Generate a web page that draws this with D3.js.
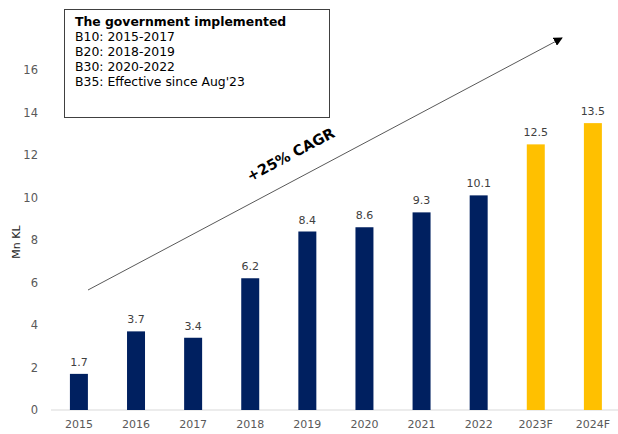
<!DOCTYPE html>
<html>
<head>
<meta charset="utf-8">
<script src="https://cdn.jsdelivr.net/npm/d3@7"></script>
<style>
  body { margin: 0; background: #fff; }
  text { font-family: "DejaVu Sans", Verdana, sans-serif; }
</style>
</head>
<body>
<div id="chart"></div>
<script>
// Data
var years = ["2015", "2016", "2017", "2018", "2019", "2020", "2021", "2022", "2023F", "2024F"];
var volumes = [1.7, 3.7, 3.4, 6.2, 8.4, 8.6, 9.3, 10.1, 12.5, 13.5];
var forecast = [false, false, false, false, false, false, false, false, true, true];
var yTicks = [0, 2, 4, 6, 8, 10, 12, 14, 16];
var noteLines = ["B10: 2015-2017", "B20: 2018-2019", "B30: 2020-2022", "B35: Effective since Aug'23"];

var W = 618, H = 434;
var svg = d3.select("#chart").append("svg")
    .attr("width", W)
    .attr("height", H);

// Skala
var x = d3.scaleBand()
    .domain(years)
    .range([50.5, 621.3])
    .paddingInner(0.685)
    .paddingOuter(0.34);

var y = d3.scaleLinear()
    .domain([0, 16])
    .range([410, 70]);

// Sumbu Y (hanya label)
var yAxis = svg.append("g")
    .attr("transform", "translate(46,0)")
    .call(d3.axisLeft(y).tickValues(yTicks).tickSize(0).tickPadding(8));
yAxis.select(".domain").remove();
yAxis.selectAll("text")
    .attr("font-size", 11.5)
    .attr("font-family", "DejaVu Sans, sans-serif")
    .attr("fill", "#595959");

// Garis dasar
svg.append("line")
    .attr("x1", 51).attr("x2", 618)
    .attr("y1", y(0)).attr("y2", y(0))
    .attr("stroke", "#d9d9d9")
    .attr("stroke-width", 1);

// Sumbu X
var xAxis = svg.append("g")
    .attr("transform", "translate(0," + y(0) + ")")
    .call(d3.axisBottom(x).tickSize(0).tickPadding(10));
xAxis.select(".domain").remove();
xAxis.selectAll("text")
    .attr("font-size", 11)
    .attr("font-family", "DejaVu Sans, sans-serif")
    .attr("fill", "#595959");

// Batang
var data = years.map(function(d, i) { return { year: d, v: volumes[i], f: forecast[i] }; });
svg.selectAll("rect.bar")
    .data(data)
    .enter().append("rect")
    .attr("class", "bar")
    .attr("x", function(d) { return x(d.year); })
    .attr("y", function(d) { return y(d.v); })
    .attr("width", x.bandwidth())
    .attr("height", function(d) { return y(0) - y(d.v); })
    .attr("fill", function(d) { return d.f ? "#FFC000" : "#002060"; });

// Label nilai
svg.selectAll("text.val")
    .data(data)
    .enter().append("text")
    .attr("class", "val")
    .attr("x", function(d) { return x(d.year) + x.bandwidth() / 2; })
    .attr("y", function(d) { return y(d.v) - 8; })
    .attr("text-anchor", "middle")
    .attr("font-size", 11)
    .attr("fill", "#404040")
    .text(function(d) { return d.v.toFixed(1); });

// Label sumbu Y
svg.append("text")
    .attr("transform", "translate(20,242) rotate(-90)")
    .attr("text-anchor", "middle")
    .attr("font-size", 11)
    .attr("font-family", "Open Sans, sans-serif")
    .attr("fill", "#262626")
    .text("Mn KL");

// Panah CAGR
svg.append("defs").append("marker")
    .attr("id", "arrow")
    .attr("viewBox", "0 0 10 10")
    .attr("refX", 9).attr("refY", 5)
    .attr("markerWidth", 9).attr("markerHeight", 9)
    .attr("markerUnits", "userSpaceOnUse")
    .attr("orient", "auto")
    .append("path")
    .attr("d", "M0,0 L10,5 L0,10 Z")
    .attr("fill", "#000");

svg.append("line")
    .attr("x1", 88).attr("y1", 290)
    .attr("x2", 562).attr("y2", 38)
    .attr("stroke", "#595959")
    .attr("stroke-width", 1)
    .attr("marker-end", "url(#arrow)");

svg.append("text")
    .attr("transform", "translate(293,159) rotate(-28)")
    .attr("text-anchor", "middle")
    .attr("font-size", 14.5)
    .attr("font-weight", "bold")
    .attr("fill", "#000")
    .text("+25% CAGR");

// Kotak catatan
svg.append("rect")
    .attr("x", 64.5).attr("y", 9.5)
    .attr("width", 265).attr("height", 108)
    .attr("fill", "#fff")
    .attr("stroke", "#404040")
    .attr("stroke-width", 1);

svg.append("text")
    .attr("x", 75).attr("y", 26)
    .attr("font-size", 12.4)
    .attr("font-weight", "bold")
    .attr("fill", "#000")
    .text("The government implemented");

svg.selectAll("text.note")
    .data(noteLines)
    .enter().append("text")
    .attr("class", "note")
    .attr("x", 75)
    .attr("y", function(d, i) { return 41 + i * 15; })
    .attr("font-size", 12.4)
    .attr("fill", "#000")
    .text(function(d) { return d; });
</script>
</body>
</html>
